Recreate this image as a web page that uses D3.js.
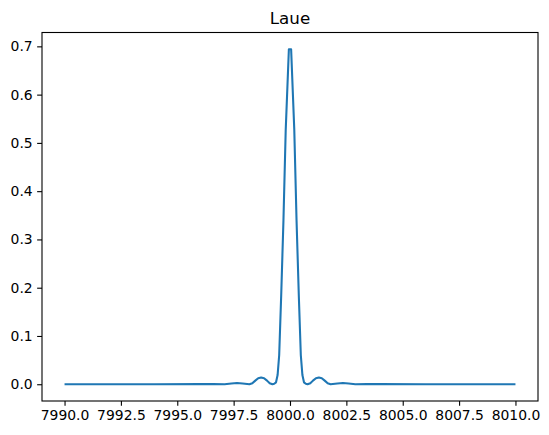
<!DOCTYPE html>
<html>
<head>
<meta charset="utf-8">
<script src="https://cdn.jsdelivr.net/npm/d3@7"></script>
<style>
  body { margin: 0; background: #fff; }
  text { font-family: "DejaVu Sans", sans-serif; fill: #000; }
</style>
</head>
<body>
<div id="chart"></div>
<script>
// energy (x) and intensity (y)
var energy = [7990.0, 7994.0, 7996.0, 7996.6, 7997.1, 7997.4, 7997.65, 7997.9, 7998.2,
              7998.33, 7998.46, 7998.59, 7998.72, 7998.85, 7998.98, 7999.1, 7999.22,
              7999.3, 7999.38, 7999.45, 7999.52, 7999.61, 7999.71, 7999.81, 7999.95,
              8000.05, 8000.19, 8000.29, 8000.39, 8000.48, 8000.55, 8000.62, 8000.7,
              8000.78, 8000.9, 8001.02, 8001.15, 8001.28, 8001.41, 8001.54, 8001.67, 8001.8,
              8002.1, 8002.35, 8002.6, 8002.9, 8003.4, 8004.0, 8006.0, 8010.0];
var intensity = [0, 0, 0.0002, 0.0006, 0, 0.0015, 0.0025, 0.0015, 0,
                 0.002, 0.0075, 0.0125, 0.014, 0.0125, 0.0075, 0.002, 0,
                 0.001, 0.004, 0.019, 0.060, 0.185, 0.340, 0.527, 0.694,
                 0.694, 0.527, 0.340, 0.185, 0.060, 0.019, 0.004, 0.001,
                 0, 0.002, 0.0075, 0.0125, 0.014, 0.0125, 0.0075, 0.002, 0,
                 0.0015, 0.0025, 0.0015, 0, 0.0006, 0.0002, 0, 0];
var xTicks = [7990, 7992.5, 7995, 7997.5, 8000, 8002.5, 8005, 8007.5, 8010];
var yTicks = [0, 0.1, 0.2, 0.3, 0.4, 0.5, 0.6, 0.7];
var title = "Laue";

var W = 549, H = 435;
var margin = {left: 42, top: 32.5, right: 11, bottom: 34};
var width = W - margin.left - margin.right,
    height = H - margin.top - margin.bottom;

var data = energy.map((e, i) => ({x: e, y: intensity[i]}));

// matplotlib-style 5% margins
var xe = d3.extent(energy), ye = d3.extent(intensity);
var xp = (xe[1] - xe[0]) * 0.05, yp = (ye[1] - ye[0]) * 0.05;
var x = d3.scaleLinear().domain([xe[0] - xp, xe[1] + xp]).range([0, width]);
var y = d3.scaleLinear().domain([ye[0] - yp, ye[1] + yp]).range([height, 0]);

var svg = d3.select("#chart").append("svg")
    .attr("width", W).attr("height", H)
  .append("g")
    .attr("transform", "translate(" + margin.left + "," + margin.top + ")");

var line = d3.line().x(d => x(d.x)).y(d => y(d.y));

svg.append("path")
   .datum(data)
   .attr("d", line)
   .attr("fill", "none")
   .attr("stroke", "#1f77b4")
   .attr("stroke-width", 2.08)
   .attr("stroke-linejoin", "round")
   .attr("stroke-linecap", "butt");

var xAxis = d3.axisBottom(x).tickValues(xTicks).tickFormat(d3.format(".1f"))
              .tickSize(4.86).tickPadding(4.5);
var yAxis = d3.axisLeft(y).tickValues(yTicks).tickFormat(d3.format(".1f"))
              .tickSize(4.86).tickPadding(4.5);

var gx = svg.append("g").attr("transform", "translate(0," + height + ")").call(xAxis);
var gy = svg.append("g").call(yAxis);
[gx, gy].forEach(g => {
  g.select(".domain").remove();
  g.selectAll("line").attr("stroke", "#000").attr("stroke-width", 1.1);
  g.selectAll("text").style("font-size", "13.9px").style("font-family", "DejaVu Sans");
});

// frame
svg.append("rect")
   .attr("width", width).attr("height", height)
   .attr("fill", "none").attr("stroke", "#000").attr("stroke-width", 1.1);

svg.append("text")
   .attr("x", width / 2).attr("y", -8.3)
   .attr("text-anchor", "middle")
   .style("font-size", "16.7px")
   .text(title);
</script>
</body>
</html>
